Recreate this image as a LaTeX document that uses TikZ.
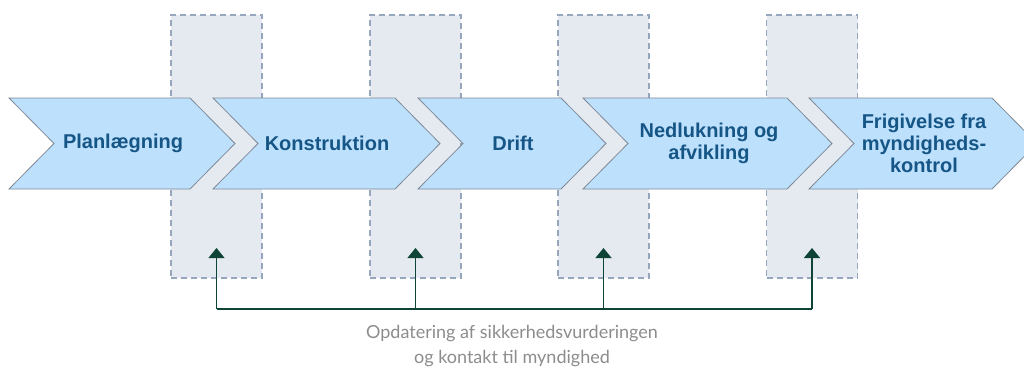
\documentclass[tikz,border=0pt]{standalone}
\usepackage{fontspec}
\setmainfont{Liberation Sans}
\newfontfamily\notefont{Lato}
\usetikzlibrary{positioning, arrows.meta}

\definecolor{chevfill}{RGB}{189,224,253}
\definecolor{chevline}{RGB}{128,138,150}
\definecolor{chevtext}{RGB}{22,86,134}
\definecolor{boxfill}{RGB}{229,234,241}
\definecolor{boxline}{RGB}{150,166,188}
\definecolor{arrowgreen}{RGB}{14,68,54}
\definecolor{notegray}{RGB}{140,140,140}

\begin{document}
\begin{tikzpicture}[x=1pt, y=-1pt,
phase/.style ={fill = chevfill, draw = chevline, line width = 0.8pt, line join = miter},
label/.style ={text = chevtext, font = \fontsize{20}{22}\selectfont\bfseries, align = center, inner sep = 0pt},
stage/.style ={rectangle, fill = boxfill, draw = boxline, dash pattern = on 6pt off 4pt, line width = 1.2pt,
  minimum width = 91pt, minimum height = 263pt, inner sep = 0pt, outer sep = 0pt},
update/.style ={arrowgreen, line width = 1.3pt},
note/.style ={text = notegray, font = \notefont\fontsize{18}{25}\selectfont, align = center}]
\useasboundingbox (0,0) rectangle (1024,369);
\clip (0,0) rectangle (1024,369);

% dashed stage boxes behind the chevrons
\node[stage] (box1) at (216.5,146.5) {};
\node[stage] (box2) at (415.5,146.5) {};
\node[stage] (box3) at (603.5,146.5) {};
\node[stage] (box4) at (812,146.5) {};

% chevrons
\draw[phase] (9,98) -- (190,98) -- (235,143.5) -- (190,189) -- (9,189) -- (54,143.5) -- cycle;
\draw[phase] (213,98) -- (395,98) -- (440,143.5) -- (395,189) -- (213,189) -- (258,143.5) -- cycle;
\draw[phase] (418,98) -- (561,98) -- (606,143.5) -- (561,189) -- (418,189) -- (463,143.5) -- cycle;
\draw[phase] (583,98) -- (787,98) -- (832,143.5) -- (787,189) -- (583,189) -- (628,143.5) -- cycle;
\draw[phase] (809,98) -- (992,98) -- (1037,143.5) -- (992,189) -- (809,189) -- (854,143.5) -- cycle;

\node[label] (plan) at (123,143) {Planlægning};
\node[label] (kons) at (327,143) {Konstruktion};
\node[label] (drift) at (513,143) {Drift};
\node[label] (ned) at (709,143) {Nedlukning og\\afvikling};
\node[label] (frig) at (924,143) {Frigivelse fra\\myndigheds-\\kontrol};

% update arrows
\coordinate (u1) at ([yshift=30pt]box1.south);
\coordinate (u2) at ([yshift=30pt]box2.south);
\coordinate (u3) at ([yshift=30pt]box3.south);
\coordinate (u4) at ([yshift=30pt]box4.south);
\coordinate (d1) at ([yshift=-31pt]box1.south);
\coordinate (d2) at ([yshift=-31pt]box2.south);
\coordinate (d3) at ([yshift=-31pt]box3.south);
\coordinate (d4) at ([yshift=-31pt]box4.south);

\draw[update, -{Triangle[width=16pt, length=10pt]}] (d1) -- (u1);
\draw[update, -{Triangle[width=16pt, length=10pt]}] (d2) -- (u2);
\draw[update, -{Triangle[width=16pt, length=10pt]}] (d3) -- (u3);
\draw[update, -{Triangle[width=16pt, length=10pt]}] (d4) -- (u4);
\draw[update] (d1) -- (d4);

\node[note] (upd) at (512,346) {Opdatering af sikkerhedsvurderingen\\og kontakt til myndighed};
\end{tikzpicture}
\end{document}
